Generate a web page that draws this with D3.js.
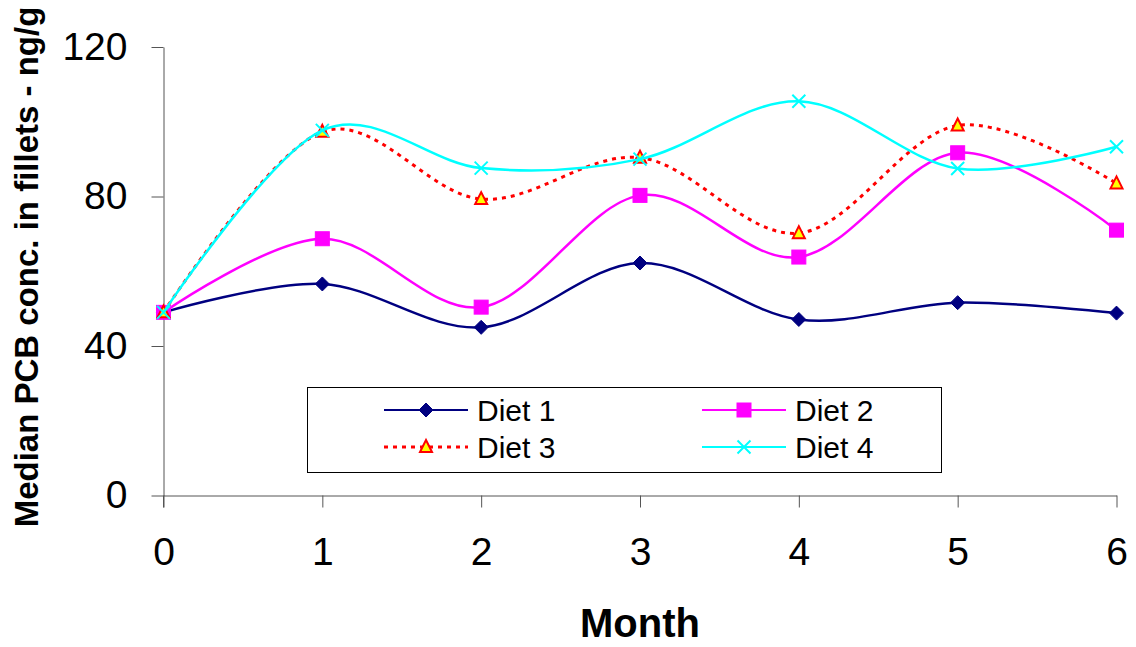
<!DOCTYPE html>
<html><head><meta charset="utf-8">
<script src="https://cdn.jsdelivr.net/npm/d3@7"></script>
<style>
html,body{margin:0;padding:0;background:#fff;}
svg{display:block;font-family:"Liberation Sans",Arial,sans-serif;}
</style></head>
<body><svg id="chart" width="1136" height="647"></svg>
<script>
const months = [0, 1, 2, 3, 4, 5, 6];
const diet1 = [49, 56.6, 45, 62.2, 47.1, 51.6, 48.8];
const diet2 = [49, 68.7, 50.4, 80.3, 63.8, 91.7, 71];
const diet3 = [49, 97.3, 79.3, 90.4, 70.2, 99, 83.5];
const diet4 = [49, 97.7, 87.6, 90, 105.5, 87.5, 93.3];
const seriesNames = ["Diet 1", "Diet 2", "Diet 3", "Diet 4"];
const yTicks = [0, 40, 80, 120];
const xTitle = "Month";
const yTitle = "Median PCB conc. in fillets - ng/g";

const series = [
  {name: seriesNames[0], values: diet1, color: "#000080", marker: "diamond", dash: null},
  {name: seriesNames[1], values: diet2, color: "#FF00FF", marker: "square", dash: null},
  {name: seriesNames[2], values: diet3, color: "#FF0000", marker: "triangle", dash: "4,5"},
  {name: seriesNames[3], values: diet4, color: "#00FFFF", marker: "x", dash: null}
];

const svg = d3.select("#chart");
const x = d3.scaleLinear().domain([0, 6]).range([163.5, 1116.5]);
const y = d3.scaleLinear().domain([0, 120]).range([495.5, 47]);

// Axes
const xAxis = svg.append("g").attr("transform", "translate(0,495.5)")
  .call(d3.axisBottom(x).tickValues(months).tickSize(12).tickSizeOuter(0).tickPadding(30).tickFormat(d3.format("d")));
const yAxis = svg.append("g").attr("transform", "translate(163.5,0)")
  .call(d3.axisLeft(y).tickValues(yTicks).tickSize(12).tickSizeOuter(0).tickPadding(24));
[xAxis, yAxis].forEach(a => {
  a.select(".domain").attr("stroke", "#555").attr("stroke-width", 1);
  a.selectAll(".tick line").attr("stroke", "#555");
  a.selectAll(".tick text").attr("font-size", 39).attr("fill", "#000")
    .attr("font-family", "'Liberation Sans', Arial, sans-serif");
});
// extend y axis line down to x tick length
yAxis.append("line").attr("x1", 0).attr("x2", 0).attr("y1", y(0)).attr("y2", y(0) + 12).attr("stroke", "#555");

// Titles
svg.append("text").attr("x", 640).attr("y", 637).attr("text-anchor", "middle")
  .attr("font-size", 40).attr("font-weight", "bold").text(xTitle);
svg.append("text").attr("transform", "translate(38,267) rotate(-90)").attr("text-anchor", "middle")
  .attr("font-size", 33).attr("font-weight", "bold").text(yTitle);

// Marker drawing
function drawMarker(g, type, color, cx, cy) {
  if (type === "diamond") {
    g.append("path").attr("d", `M${cx},${cy-7}L${cx+7},${cy}L${cx},${cy+7}L${cx-7},${cy}Z`)
      .attr("fill", color).attr("stroke", color).attr("stroke-width", 1);
  } else if (type === "square") {
    g.append("rect").attr("x", cx - 7).attr("y", cy - 7).attr("width", 14).attr("height", 14)
      .attr("fill", color).attr("stroke", color).attr("stroke-width", 1);
  } else if (type === "triangle") {
    g.append("path").attr("d", `M${cx},${cy-7}L${cx+6},${cy+5}L${cx-6},${cy+5}Z`)
      .attr("fill", "#FFFF00").attr("stroke", "#FF0000").attr("stroke-width", 2).attr("stroke-linejoin", "miter");
  } else if (type === "x") {
    g.append("path").attr("d", `M${cx-6.5},${cy-6.5}L${cx+6.5},${cy+6.5}M${cx+6.5},${cy-6.5}L${cx-6.5},${cy+6.5}`)
      .attr("stroke", color).attr("stroke-width", 2).attr("fill", "none");
  }
}

const line = d3.line().x((d, i) => x(months[i])).y(d => y(d)).curve(d3.curveCatmullRom.alpha(0));

series.forEach(s => {
  const g = svg.append("g");
  g.append("path").attr("d", line(s.values)).attr("fill", "none")
    .attr("stroke", s.color).attr("stroke-width", s.dash ? 3 : 2.5)
    .attr("stroke-dasharray", s.dash);
  s.values.forEach((v, i) => drawMarker(g, s.marker, s.color, x(months[i]), y(v)));
});

// Legend
const lg = svg.append("g");
lg.append("rect").attr("x", 307.5).attr("y", 387.5).attr("width", 634).attr("height", 85)
  .attr("fill", "#fff").attr("stroke", "#000").attr("stroke-width", 1);
const legPos = [
  {x1: 384, x2: 468, mx: 426, tx: 477, y: 410},
  {x1: 702, x2: 786, mx: 744, tx: 795, y: 410},
  {x1: 384, x2: 468, mx: 426, tx: 477, y: 447},
  {x1: 702, x2: 786, mx: 744, tx: 795, y: 447}
];
series.forEach((s, i) => {
  const p = legPos[i];
  lg.append("line").attr("x1", p.x1).attr("x2", p.x2).attr("y1", p.y).attr("y2", p.y)
    .attr("stroke", s.color).attr("stroke-width", s.dash ? 3 : 2).attr("stroke-dasharray", s.dash);
  drawMarker(lg, s.marker, s.color, p.mx, p.y);
  lg.append("text").attr("x", p.tx).attr("y", p.y + 11).attr("font-size", 30).text(s.name);
});
</script></body></html>
